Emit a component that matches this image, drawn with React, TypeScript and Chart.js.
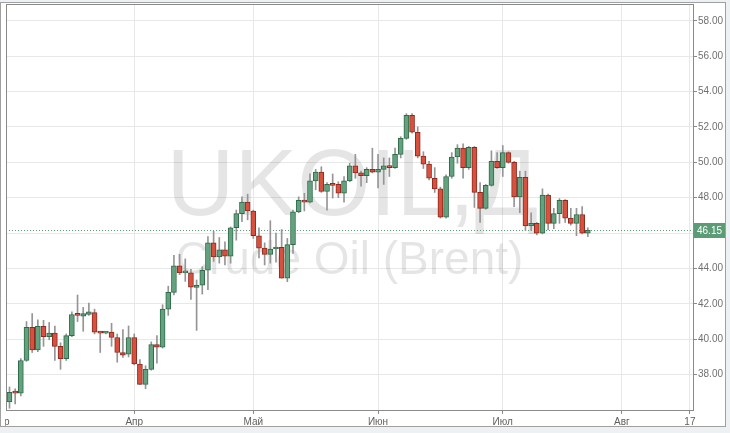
import React, { useEffect, useRef } from "react";
import { Chart, registerables } from "chart.js";

Chart.register(...registerables);

// ---- data (daily candles, index = trading day) ----
const opens = [
  36.46, 37.0, 36.95, 38.8, 40.67, 39.4, 40.73, 40.15, 40.35, 39.6,
  38.9, 40.2, 41.4, 41.3, 41.4, 41.5, 40.4, 40.35, 40.4, 40.1,
  39.25, 39.15, 40.1, 38.6, 37.45, 38.3, 39.7, 39.55, 41.7, 42.65,
  44.15, 43.75, 43.75, 42.93, 43.05, 43.9, 45.45, 44.65, 45.05, 44.7,
  46.3, 47.1, 47.75, 47.25, 45.85, 45.15, 44.8, 45.1, 45.2, 43.45,
  45.35, 47.2, 47.85, 47.75, 48.95, 49.45, 48.35, 48.75, 48.75, 48.25,
  48.95, 49.8, 49.4, 49.25, 49.6, 49.45, 49.6, 49.8, 49.7, 50.45,
  51.35, 52.65, 51.7, 50.35, 49.9, 49.1, 48.5, 46.9, 49.2, 50.3,
  50.8, 49.7, 50.85, 48.3, 47.4, 48.7, 50.05, 49.7, 50.55, 50.0,
  48.05, 49.15, 46.4, 46.55, 46.0, 48.15, 46.55, 47.1, 47.85, 46.85,
  46.55, 47.05, 46.0,
];
const highs = [
  37.3, 37.2, 38.9, 41.0, 41.45, 41.1, 41.07, 40.95, 40.75, 39.8,
  40.3, 41.55, 42.5, 41.8, 42.05, 41.7, 40.45, 40.45, 40.9, 40.3,
  40.54, 40.75, 40.3, 38.85, 38.5, 39.85, 40.2, 41.95, 43.0, 44.75,
  44.8, 44.54, 43.95, 43.35, 44.1, 45.8, 46.1, 45.75, 45.5, 46.35,
  47.3, 48.05, 48.2, 47.3, 46.3, 45.45, 46.7, 46.0, 46.2, 45.7,
  47.3, 48.05, 48.25, 49.35, 49.6, 49.75, 48.85, 49.34, 48.9, 49.2,
  49.95, 50.45, 49.5, 49.7, 50.8, 50.45, 50.25, 50.25, 50.8, 51.45,
  52.75, 52.75, 52.0, 50.6, 50.05, 49.7, 48.6, 49.3, 50.55, 51.0,
  51.05, 50.9, 50.9, 48.85, 48.75, 50.65, 50.55, 50.95, 50.6, 50.05,
  49.5, 49.5, 47.15, 46.6, 48.5, 48.2, 47.4, 47.95, 47.9, 47.4,
  47.4, 47.5, 46.3,
];
const lows = [
  36.1, 36.35, 36.8, 38.75, 39.25, 39.3, 39.6, 39.97, 38.8, 38.3,
  38.8, 40.15, 41.0, 40.45, 41.35, 40.3, 39.25, 40.3, 39.6, 38.7,
  38.97, 39.0, 38.55, 37.43, 37.2, 38.25, 38.65, 39.5, 41.35, 42.5,
  43.65, 43.27, 42.25, 40.5, 42.55, 42.8, 44.4, 44.3, 44.2, 44.3,
  45.6, 46.65, 46.75, 45.7, 44.6, 44.2, 44.3, 44.35, 43.45, 43.25,
  44.85, 47.15, 47.25, 47.7, 48.45, 48.3, 47.3, 47.98, 48.0, 47.75,
  48.9, 49.1, 48.65, 48.85, 49.4, 48.55, 48.75, 49.2, 49.65, 50.25,
  51.3, 51.65, 50.25, 49.65, 49.0, 48.3, 46.85, 46.85, 49.1, 49.95,
  49.1, 49.6, 47.45, 46.6, 47.35, 48.65, 49.65, 49.2, 49.95, 47.5,
  47.15, 46.15, 46.15, 45.9, 45.95, 46.2, 46.25, 46.55, 46.6, 46.45,
  45.85, 45.95, 45.8,
];
const closes = [
  37.0, 36.95, 38.8, 40.67, 39.4, 40.73, 40.15, 40.35, 39.6, 38.9,
  40.2, 41.4, 41.35, 41.45, 41.55, 40.4, 40.35, 40.4, 40.1, 39.25,
  39.1, 40.1, 38.6, 37.45, 38.3, 39.7, 39.55, 41.7, 42.65, 44.15,
  43.75, 43.8, 42.95, 43.05, 43.9, 45.45, 44.65, 45.05, 44.7, 46.3,
  47.1, 47.75, 47.25, 45.85, 45.15, 44.8, 45.1, 45.2, 43.45, 45.35,
  47.2, 47.85, 47.75, 48.95, 49.45, 48.35, 48.75, 48.7, 48.25, 48.95,
  49.8, 49.4, 49.25, 49.6, 49.45, 49.6, 49.8, 49.7, 50.45, 51.35,
  52.65, 51.7, 50.35, 49.9, 49.1, 48.5, 46.9, 49.2, 50.3, 50.8,
  49.7, 50.85, 48.3, 47.4, 48.7, 50.05, 49.7, 50.55, 50.0, 48.05,
  49.15, 46.4, 46.55, 46.0, 48.15, 46.55, 47.1, 47.85, 46.85, 46.55,
  47.05, 46.0, 46.15,
];

// month ticks (trading-day index) and their labels
const xTickValues = [-1.7, 22, 43, 65, 87, 108, 120];
const xTickLabels = ["Мар", "Апр", "Май", "Июн", "Июл", "Авг", "17"];
const yTickValues = [38, 40, 42, 44, 46, 48, 50, 52, 54, 56, 58];
const lastPrice = 46.15;
const symbolText = "UKOIL,Д";
const nameText = "Crude Oil (Brent)";

const FONT = "'Liberation Sans', Arial, sans-serif";
const UP_FILL = "#64a27f";
const UP_LINE = "#2f6a49";
const DN_FILL = "#d8503e";
const DN_LINE = "#8c2a1f";
const WICK = "#959595";
const PRICE_GREEN = "#5b9b76";

const watermarkPlugin = {
  id: "watermark",
  beforeDatasetsDraw(chart: any) {
    const { ctx, chartArea } = chart;
    const cx = (chartArea.left + chartArea.right) / 2;
    const h = chartArea.bottom - chartArea.top;
    ctx.save();
    ctx.fillStyle = "rgba(0,0,0,0.1)";
    ctx.textAlign = "center";
    ctx.textBaseline = "alphabetic";
    ctx.font = `94px ${FONT}`;
    ctx.fillText(symbolText, cx + 3, chartArea.top + h * 0.52);
    ctx.font = `46px ${FONT}`;
    ctx.fillText(nameText, cx, chartArea.top + h * 0.665);
    ctx.restore();
  },
};

const priceLinePlugin = {
  id: "priceLine",
  beforeDatasetsDraw(chart: any) {
    const { ctx, chartArea, scales } = chart;
    const y = Math.round(scales.y.getPixelForValue(lastPrice)) + 0.5;
    ctx.save();
    ctx.strokeStyle = PRICE_GREEN;
    ctx.lineWidth = 1;
    ctx.setLineDash([1, 2]);
    ctx.beginPath();
    ctx.moveTo(chartArea.left, y);
    ctx.lineTo(chartArea.right, y);
    ctx.stroke();
    ctx.restore();
  },
  afterDraw(chart: any) {
    const { ctx, chartArea, scales } = chart;
    const y = scales.y.getPixelForValue(lastPrice);
    ctx.save();
    // plot frame
    ctx.strokeStyle = "#8a8a8a";
    ctx.lineWidth = 1;
    ctx.strokeRect(
      Math.round(chartArea.left) + 0.5,
      Math.round(chartArea.top) + 0.5,
      Math.round(chartArea.right - chartArea.left),
      Math.round(chartArea.bottom - chartArea.top)
    );
    // price badge
    ctx.fillStyle = PRICE_GREEN;
    ctx.fillRect(chartArea.right + 1, Math.round(y) - 7, 32, 15);
    ctx.fillStyle = "#ffffff";
    ctx.font = `10px ${FONT}`;
    ctx.textAlign = "left";
    ctx.textBaseline = "middle";
    ctx.fillText(lastPrice.toFixed(2), chartArea.right + 4, Math.round(y) + 1);
    ctx.restore();
  },
};

export default function App() {
  const ref = useRef<HTMLCanvasElement | null>(null);

  useEffect(() => {
    if (!ref.current) return;
    const up = closes.map((c, i) => c >= opens[i]);
    const bodies = opens.map((o, i) => ({ x: i, y: [o, closes[i]] }));
    const wicks = lows.map((l, i) => ({ x: i, y: [l, highs[i]] }));

    const chart = new Chart(ref.current, {
      type: "bar",
      data: {
        datasets: [
          {
            data: bodies as any,
            backgroundColor: up.map((u) => (u ? UP_FILL : DN_FILL)),
            borderColor: up.map((u) => (u ? UP_LINE : DN_LINE)),
            borderWidth: 1,
            borderSkipped: false,
            barThickness: 5,
            minBarLength: 2,
            grouped: false,
            order: 1,
          } as any,
          {
            data: wicks as any,
            backgroundColor: WICK,
            borderWidth: 0,
            barThickness: 1,
            grouped: false,
            order: 2,
          } as any,
        ],
      },
      options: {
        animation: false,
        responsive: false,
        maintainAspectRatio: false,
        devicePixelRatio: 1,
        layout: { padding: { left: 46, top: 4, right: 5, bottom: 6 } },
        plugins: {
          legend: { display: false },
          tooltip: { enabled: false },
        },
        scales: {
          x: {
            type: "linear",
            min: -0.617,
            max: 120.55,
            offset: false,
            afterBuildTicks: (axis: any) => {
              axis.ticks = xTickValues.map((v) => ({ value: v }));
            },
            afterFit: (axis: any) => {
              axis.height = 17;
              axis.paddingLeft = 0;
              axis.paddingRight = 0;
            },
            grid: {
              offset: false,
              color: "#e8e8e8",
              tickColor: "#8a8a8a",
              tickLength: 4,
              drawTicks: true,
            },
            border: { display: true, color: "#8a8a8a" },
            ticks: {
              autoSkip: false,
              maxRotation: 0,
              padding: 2,
              color: "#606060",
              font: { family: FONT, size: 10 },
              callback: (_v: any, idx: number) => xTickLabels[idx],
            },
          },
          y: {
            type: "linear",
            position: "right",
            min: 36,
            max: 58.95,
            afterBuildTicks: (axis: any) => {
              axis.ticks = yTickValues.map((v) => ({ value: v }));
            },
            afterFit: (axis: any) => {
              axis.width = 32;
              axis.paddingTop = 0;
              axis.paddingBottom = 0;
            },
            grid: {
              color: "#e8e8e8",
              tickColor: "#8a8a8a",
              tickLength: 4,
            },
            border: { display: true, color: "#8a8a8a" },
            ticks: {
              padding: 1,
              color: "#707070",
              font: { family: FONT, size: 10 },
              callback: (v: any) => Number(v).toFixed(2),
            },
          },
        },
      } as any,
      plugins: [watermarkPlugin, priceLinePlugin],
    });
    return () => chart.destroy();
  }, []);

  return (
    <div
      style={{
        position: "fixed",
        left: 0,
        top: 0,
        width: 730,
        height: 433,
        background: "#eef1f4",
        overflow: "hidden",
      }}
    >
      <div
        style={{
          position: "absolute",
          left: 0,
          top: 2,
          width: 726,
          height: 425,
          boxSizing: "border-box",
          border: "1px solid #a0a0a0",
          background: "#ffffff",
        }}
      />
      <div
        style={{
          position: "absolute",
          left: 5,
          top: 0,
          width: 720,
          height: 426,
          overflow: "hidden",
        }}
      >
        <canvas
          ref={ref}
          width={770}
          height={433}
          style={{ position: "absolute", left: -45, top: 0, width: 770, height: 433 }}
        />
      </div>
    </div>
  );
}
